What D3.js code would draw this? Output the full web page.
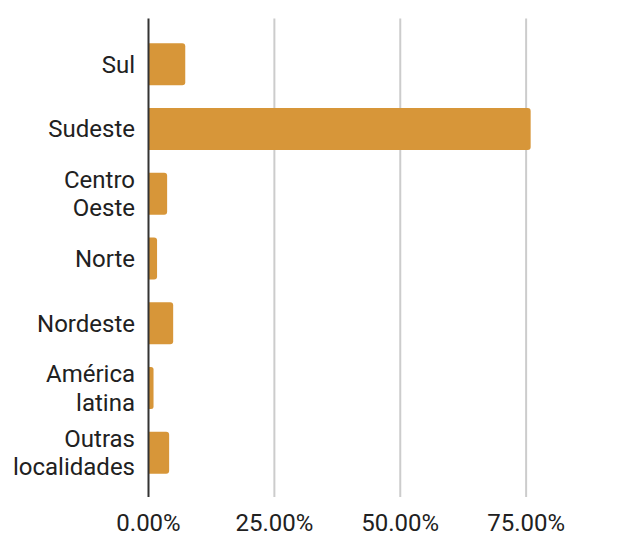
<!DOCTYPE html>
<html>
<head>
<meta charset="utf-8">
<script src="https://cdn.jsdelivr.net/npm/d3@7"></script>
<style>
  html, body { margin: 0; padding: 0; background: #fff; }
  svg { display: block; font-family: Roboto, "Noto Sans", sans-serif; }
</style>
</head>
<body>
<svg id="chart" width="642" height="534"></svg>
<script>
// Regions of origin and their share of the total
const regions = [
  ["Sul"],
  ["Sudeste"],
  ["Centro", "Oeste"],
  ["Norte"],
  ["Nordeste"],
  ["América", "latina"],
  ["Outras", "localidades"]
];
const shares = [0.073, 0.759, 0.037, 0.017, 0.049, 0.010, 0.041];
const tickValues = [0, 0.25, 0.5, 0.75];

const plot = { left: 148.5, right: 652, top: 18.5, bottom: 497 };
const barColor = "#D79639";

const svg = d3.select("#chart");
const keys = regions.map(r => r.join(" "));

const x = d3.scaleLinear().domain([0, 1]).range([plot.left, plot.right]);
const y = d3.scaleBand().domain(keys).range([plot.top + 1.5, plot.bottom])
  .paddingInner(0.354).paddingOuter(0.36);

// vertical gridlines
svg.append("g").selectAll("line")
  .data(tickValues.filter(v => v > 0))
  .join("line")
  .attr("x1", d => x(d)).attr("x2", d => x(d))
  .attr("y1", plot.top).attr("y2", plot.bottom)
  .attr("stroke", "#cccccc").attr("stroke-width", 2);

// bars with rounded right-hand corners
const r = 3;
svg.append("g").selectAll("path")
  .data(shares.map((v, i) => ({ key: keys[i], v })))
  .join("path")
  .attr("fill", barColor)
  .attr("d", d => {
    const x0 = x(0), x1 = x(d.v), y0 = y(d.key), h = y.bandwidth();
    const rr = Math.min(r, (x1 - x0) / 2);
    return `M${x0},${y0}H${x1 - rr}Q${x1},${y0} ${x1},${y0 + rr}` +
           `V${y0 + h - rr}Q${x1},${y0 + h} ${x1 - rr},${y0 + h}H${x0}Z`;
  });

// zero axis line
svg.append("line")
  .attr("x1", x(0)).attr("x2", x(0))
  .attr("y1", plot.top).attr("y2", plot.bottom)
  .attr("stroke", "#333333").attr("stroke-width", 2);

// category labels (one or two lines)
const labels = svg.append("g")
  .attr("font-size", 24).attr("fill", "#212121").attr("text-anchor", "end");
regions.forEach((lines, i) => {
  const cy = y(keys[i]) + y.bandwidth() / 2;
  const lh = 28.3;
  const t = labels.append("text").attr("x", 135);
  lines.forEach((ln, j) => {
    const off = (j - (lines.length - 1) / 2) * lh;
    t.append("tspan").attr("x", 135).attr("y", cy + off + 8.5).text(ln);
  });
});

// percentage tick labels
const fmt = d3.format(".2%");
svg.append("g").selectAll("text")
  .data(tickValues)
  .join("text")
  .attr("x", d => x(d)).attr("y", 531)
  .attr("text-anchor", "middle")
  .attr("font-size", 24).attr("fill", "#212121")
  .text(d => fmt(d));
</script>
</body>
</html>
